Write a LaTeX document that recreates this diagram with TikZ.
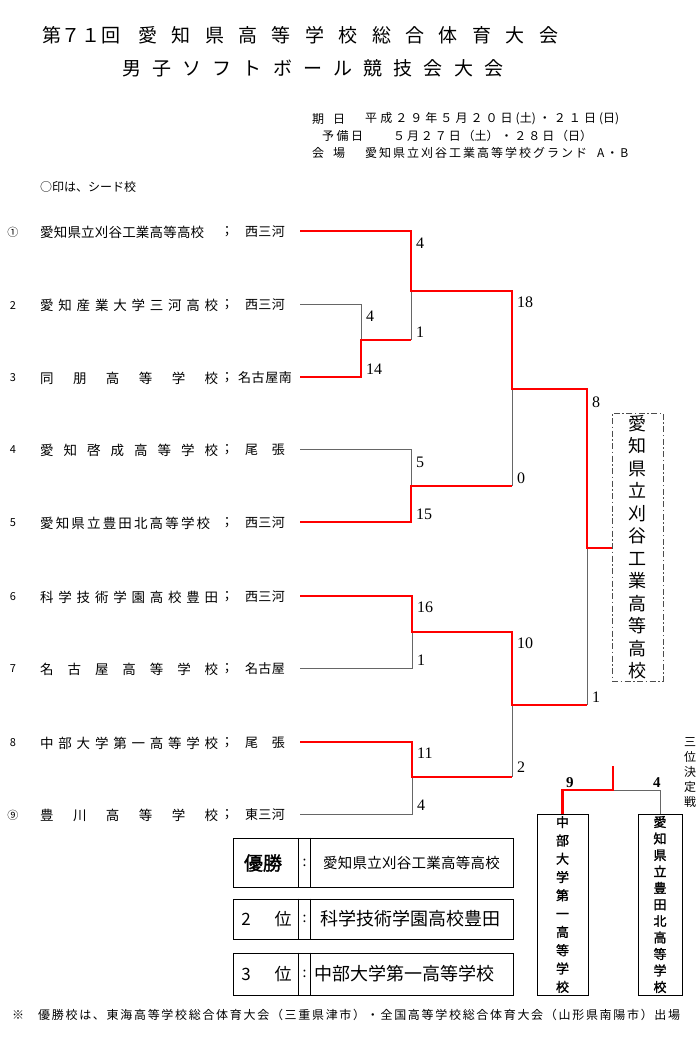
\documentclass[tikz,border=0pt]{standalone}
\usepackage{fontspec}
\setmainfont{Liberation Serif}
\newfontfamily\jp{Noto Sans CJK JP}
\newfontfamily\jpb{Noto Sans CJK JP}[FakeBold=1.5]
\usetikzlibrary{positioning,calc}

% spread the characters of a text over a fixed width
\def\gobbleone#1{}
\def\spreadloop#1{#1\futurelet\spnext\spreadcheck}
\def\spreadcheck{\ifx\spnext\relax\expandafter\gobbleone\else\expandafter\spreadgap\fi}
\def\spreadgap{\hfill\spreadloop}
\newcommand\spread[2]{\makebox[#1][s]{\expandafter\spreadloop#2\relax}}
% one character per line
\def\stackloop#1{#1\futurelet\spnext\stackcheck}
\def\stackcheck{\ifx\spnext\relax\expandafter\gobbleone\else\expandafter\stackgap\fi}
\def\stackgap{\\\stackloop}
\newcommand\vstack[1]{\expandafter\stackloop#1\relax}

\tikzset{
  win/.style={draw=red,line width=2.6pt},
  lose/.style={draw=black!60,line width=0.9pt},
  title/.style={anchor=west,inner sep=0pt,font=\jp\fontsize{19}{19}\selectfont},
  info/.style={anchor=west,inner sep=0pt,font=\jp\fontsize{12}{12}\selectfont},
  seedno/.style={inner sep=0pt,font=\jp\fontsize{11}{11}\selectfont},
  school/.style={anchor=west,inner sep=0pt,font=\jp\fontsize{13.5}{13.5}\selectfont},
  area/.style={inner sep=0pt,font=\jp\fontsize{13}{13}\selectfont},
  score/.style={anchor=west,inner sep=0pt,font=\fontsize{16}{16}\selectfont},
  champ/.style={draw=black!70,dash pattern=on 6pt off 2.5pt on 1.5pt off 2.5pt,line width=0.8pt,
    minimum width=51pt,minimum height=268pt,inner sep=0pt,align=center,
    font=\jp\fontsize{18}{22.5}\selectfont},
  tbox/.style={draw,line width=0.8pt,minimum height=181pt,inner sep=0pt,align=center},
  resbox/.style={draw,line width=0.8pt,minimum width=280pt,inner sep=0pt},
  restxt/.style={inner sep=0pt,font=\jp\fontsize{#1}{#1}\selectfont},
}

\begin{document}
\begin{tikzpicture}[x=1pt,y=-1pt]
  \useasboundingbox (0,0) rectangle (700,1037);

  % heading
  \node[title] (tnum) at (42,35) {\spread{78pt}{第７１回}};
  \node[title] (tmeet) at (138,35) {\spread{420pt}{愛知県高等学校総合体育大会}};
  \node[title] (tsport) at (122,68) {\spread{381pt}{男子ソフトボール競技会大会}};
  \node[info] (d1) at (312,119) {\spread{33pt}{期日}};
  \node[info] (d2) at (365,119) {\spread{254pt}{平成２９年５月２０日{(土)}・２１日{(日)}}};
  \node[info] (d3) at (322,136) {\spread{41pt}{予備日}};
  \node[info] (d4) at (393,136) {\spread{199pt}{５月２７日{（土）}・２８日{（日）}}};
  \node[info] (d5) at (312,153) {\spread{33pt}{会場}};
  \node[info] (d6) at (365,153) {\spread{263pt}{愛知県立刈谷工業高等学校グランド{\hspace{6pt}}A・B}};
  \node[info] (seedmark) at (40,187) {○印は、シード校};

  % teams
  \foreach \i/\y/\w/\nm/\ar/\aw/\no in {
      1/231/164/愛知県立刈谷工業高等高校/西三河/40/①,
      2/304/178/愛知産業大学三河高校/西三河/40/2,
      3/377/178/同朋高等学校/名古屋南/54/3,
      4/449/178/愛知啓成高等学校/尾張/40/4,
      5/522/170/愛知県立豊田北高等学校/西三河/40/5,
      6/596/178/科学技術学園高校豊田/西三河/40/6,
      7/668/178/名古屋高等学校/名古屋/40/7,
      8/742/178/中部大学第一高等学校/尾張/40/8,
      9/814/178/豊川高等学校/東三河/40/⑨}{
    \node[seedno] (no\i) at (13,\y+1) {\no};
    \node[school] (t\i) at (40,\y+1) {\spread{\w pt}{\nm}};
    \node[area] (semi\i) at (227,\y+1) {；};
    \node[area] (a\i) at (265,\y+1) {\spread{\aw pt}{\ar}};
    \coordinate (s\i) at (300,\y);
  }

  % bracket
  \coordinate (m23) at (361,340);
  \coordinate (m1) at (411,291);
  \coordinate (m45) at (411,486);
  \coordinate (m67) at (412,632);
  \coordinate (m89) at (412,777);
  \coordinate (mA) at (512,389);
  \coordinate (mB) at (512,705);
  \coordinate (mF) at (587,548);
  \node[champ] (champ) at (637.5,547) {\vstack{愛知県立刈谷工業高等高校}};

  \draw[lose] (s2) -| (m23);
  \draw[lose] (m1) -- (m1 |- m23);
  \draw[lose] (s4) -| (m45);
  \draw[lose] (mA) -- (mA |- m45);
  \draw[lose] (s7) -| (m67);
  \draw[lose] (mF) -- (mF |- mB);
  \draw[lose] (mB) -- (mB |- m89);
  \draw[lose] (s9) -| (m89);

  \draw[win] (s1) -| (m1) -| (mA) -| (mF) -- (mF -| champ.west);
  \draw[win] (s3) -| (m23) -- (m1 |- m23);
  \draw[win] (s5) -| (m45) -- (mA |- m45);
  \draw[win] (s6) -| (m67) -| (mB) -- (mF |- mB);
  \draw[win] (s8) -| (m89) -- (mB |- m89);

  \foreach \x/\y/\s [count=\k] in {361/316/4, 361/369/14, 411/243/4, 411/332/1,
      411/462/5, 411/514/15, 412/607/16, 412/660/1, 412/753/11, 412/805/4,
      512/302/18, 512/478/0, 512/643/10, 512/767/2, 587/402/8, 587/697/1}
    \node[score] (pt\k) at (\x+5,\y) {\s};

  % third place
  \node[tbox,minimum width=51pt,font=\jpb\fontsize{13}{18.3}\selectfont] (third) at (562.5,904.5) {\vstack{中部大学第一高等学校}};
  \node[tbox,minimum width=44pt,font=\jpb\fontsize{13}{16.5}\selectfont] (fourth) at (660,904.5) {\vstack{愛知県立豊田北高等学校}};
  \coordinate (tp) at (613,766);
  \coordinate (tj) at (613,790);
  \draw[lose] (tj) -| (fourth.north);
  \draw[win] (tp) -- (tj) -| (third.north);
  \node[score,font=\bfseries\fontsize{15}{15}\selectfont] (pt17) at (566,783) {9};
  \node[score,font=\bfseries\fontsize{15}{15}\selectfont] (pt18) at (653,783) {4};
  \node[inner sep=0pt,align=center,font=\jp\fontsize{12}{15}\selectfont] (tplabel) at (690,773) {\vstack{三位決定戦}};

  % results
  \node[resbox,minimum height=49pt] (r1) at (373,862.5) {};
  \node[resbox,minimum height=40pt] (r2) at (373,919) {};
  \node[resbox,minimum height=42pt] (r3) at (373,974) {};
  \foreach \r in {r1,r2,r3}{
    \draw[line width=0.8pt] ($(\r.north west)+(66,0)$) -- ($(\r.south west)+(66,0)$);
    \draw[line width=0.8pt] ($(\r.north west)+(78,0)$) -- ($(\r.south west)+(78,0)$);
    \node[restxt=14] (col\r) at ($(\r.west)+(72,0)$) {:};
  }
  \node[restxt=19,font=\jpb\fontsize{19}{19}\selectfont] (w1) at (263,863) {優勝};
  \node[restxt=17] (w2a) at (246,919) {2};
  \node[restxt=17] (w2b) at (283,919) {位};
  \node[restxt=17] (w3a) at (246,974) {3};
  \node[restxt=17] (w3b) at (283,974) {位};
  \node[restxt=14.5] (n1) at (411.5,863) {\spread{177pt}{愛知県立刈谷工業高等高校}};
  \node[restxt=18] (n2) at (410,919) {科学技術学園高校豊田};
  \node[restxt=18] (n3) at (404.5,974) {中部大学第一高等学校};

  % note
  \node[info] (f1) at (12,1015) {※};
  \node[info] (f2) at (38,1015) {\spread{642pt}{優勝校は、東海高等学校総合体育大会（三重県津市）・全国高等学校総合体育大会（山形県南陽市）出場}};
\end{tikzpicture}
\end{document}
